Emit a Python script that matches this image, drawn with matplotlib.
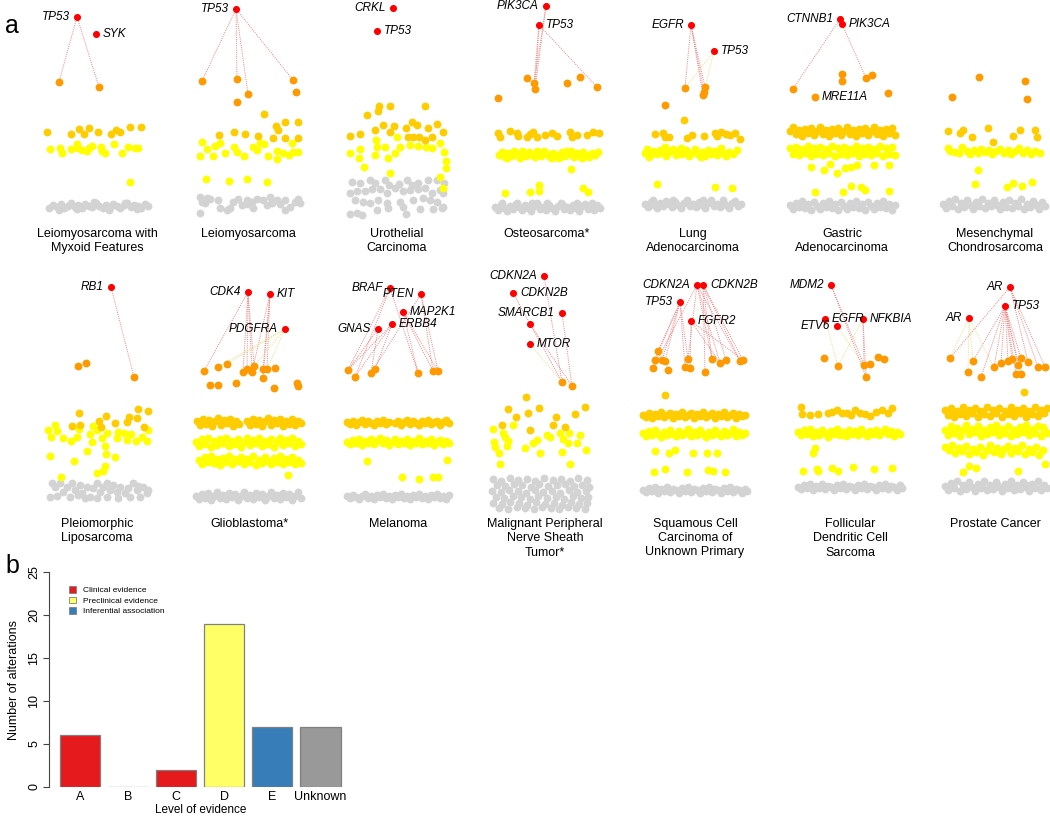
import matplotlib
matplotlib.use("Agg")
import matplotlib.pyplot as plt
from matplotlib.patches import Patch

plt.rcParams["font.family"] = ["Liberation Sans", "DejaVu Sans"]

W, H = 1050, 816

RED = "#FF0000"
ORANGE = "#FF9900"
GOLD = "#FFCC00"
YELLOW = "#FFFF00"
GRAY = "#D3D3D3"
LINK_R = "#F08080"
LINK_Y = "#E8E08A"

# ---- panel a data: x = offset from panel centre, y = height above baseline ----
# genes: (name, x, y, label side)   links: (gene index, orange index, colour)

# Leiomyosarcoma with Myxoid Features
p1_genes = [("TP53", -20, 198, "l"), ("SYK", -1, 181, "r")]
p1_orange = [(-38, 133), (2, 128)]
p1_links = [(0, 0, "r"), (0, 1, "r")]
p1_gold = [(-50, 83), (-26, 81), (-18, 86), (-13, 81), (-8, 87), (1, 83), (14, 81), (19, 85), (23, 83), (33, 88), (44, 88)]
p1_yellow = [(-47, 66), (-37, 67), (-35, 62), (-26, 66), (-20, 71), (-19, 67), (-15, 65), (-10, 64), (-8, 67), (-5, 69),
             (4, 68), (5, 64), (8, 62), (17, 71), (25, 62), (31, 68), (38, 67), (41, 67), (33, 33)]
p1_gray = [(-48, 7), (-44, 10), (-40, 8), (-36, 11), (-33, 7), (-29, 9), (-26, 12), (-22, 8), (-19, 10), (-15, 7),
           (-12, 11), (-8, 9), (-5, 8), (-1, 12), (2, 9), (6, 7), (9, 10), (13, 8), (16, 11), (20, 9), (23, 7),
           (27, 10), (30, 12), (34, 8), (37, 10), (41, 9), (44, 7), (48, 11), (51, 9), (-38, 5), (-20, 6),
           (-3, 13), (12, 5), (28, 12), (40, 6)]

# Leiomyosarcoma
p2_genes = [("TP53", -12, 206, "l")]
p2_orange = [(-46, 134), (-11, 136), (0, 121), (-11, 113), (45, 135), (48, 123)]
p2_links = [(0, 0, "r"), (0, 1, "r"), (0, 2, "r"), (0, 4, "r")]
p2_gold = [(16, 101), (28, 89), (37, 93), (50, 93), (-29, 80), (-14, 83), (-3, 81), (10, 79), (25, 77), (37, 77),
           (50, 77), (30, 85)]
p2_yellow = [(-46, 73), (-41, 66), (-33, 69), (-28, 72), (-35, 59), (-23, 62), (-14, 68), (-11, 63), (-4, 59),
             (5, 68), (9, 65), (12, 72), (16, 71), (20, 59), (29, 64), (29, 56), (35, 62), (41, 60), (45, 63),
             (50, 63), (-48, 59), (44, 72), (-42, 36), (-19, 34), (-1, 36), (19, 33)]
p2_gray = [(-48, 18), (-46, 13), (-43, 12), (-48, 2), (-38, 16), (-30, 15), (-28, 7), (-18, 7), (-15, 13), (-10, 16),
           (-6, 10), (-1, 15), (4, 13), (5, 7), (9, 16), (15, 15), (22, 18), (24, 12), (29, 15), (37, 15), (37, 5),
           (42, 8), (47, 13), (50, 16), (52, 12), (-21, 5), (-41, 17), (0, 11), (19, 10), (32, 11)]

# Urothelial Carcinoma
p3_genes = [("CRKL", -4, 207, "l"), ("TP53", -20, 184, "r")]
p3_orange = []
p3_links = []
p3_gold = [(-18, 109), (-7, 109), (-19, 104), (-30, 100), (28, 109), (-47, 79), (-37, 81), (-14, 90), (-22, 85),
           (-3, 89), (9, 87), (15, 93), (20, 90), (31, 87), (40, 91), (11, 78), (16, 78), (22, 78), (28, 75),
           (35, 78), (46, 83), (-7, 83)]
p3_yellow = [(-37, 66), (-47, 62), (-38, 57), (-33, 48), (-21, 75), (-20, 68), (-22, 60), (-12, 68), (-9, 57),
             (-7, 42), (-2, 62), (0, 78), (3, 68), (13, 70), (21, 69), (29, 68), (35, 67), (43, 72), (47, 63),
             (49, 54), (49, 47), (43, 38), (46, 27)]
p3_gray = [(-45, 33), (-37, 32), (-27, 35), (-22, 32), (-12, 35), (-8, 30), (2, 31), (10, 35), (15, 30), (21, 32),
           (31, 35), (40, 35), (47, 32), (-47, 22), (-40, 24), (-32, 24), (-25, 26), (-17, 26), (-10, 22), (-2, 27),
           (6, 24), (13, 25), (21, 26), (28, 27), (35, 22), (43, 25), (46, 22), (-42, 15), (-34, 13), (-27, 12),
           (-19, 15), (-10, 12), (3, 13), (16, 15), (26, 17), (33, 15), (40, 13), (46, 8), (-47, 1), (-40, 2),
           (-35, 0), (-20, 5), (-9, 7), (6, 8), (9, 1), (23, 6), (36, 6), (45, 7)]

# Osteosarcoma*
p4_genes = [("PIK3CA", -1, 209, "l"), ("TP53", -8, 190, "r")]
p4_orange = [(-20, 137), (-13, 132), (-12, 126), (20, 132), (33, 138), (50, 128), (-49, 117)]
p4_links = [(0, 1, "r"), (0, 2, "r"), (1, 1, "r"), (1, 2, "r"), (1, 5, "r")]
p4_gold = [(-49, 82), (-47, 78), (-37, 84), (-30, 82), (-29, 79), (-20, 78), (-17, 81), (-14, 83), (-10, 78),
           (-2, 80), (5, 82), (10, 79), (23, 83), (25, 78), (30, 80), (40, 80), (46, 83), (52, 82)]
p4_yellow = [(-48, 60), (-45, 63), (-42, 58), (-39, 62), (-36, 59), (-33, 64), (-30, 60), (-27, 57), (-24, 62),
             (-21, 59), (-18, 63), (-15, 60), (-12, 58), (-9, 62), (-6, 59), (-3, 64), (0, 61), (3, 58), (6, 62),
             (9, 60), (12, 57), (15, 63), (18, 59), (21, 61), (24, 64), (27, 58), (30, 62), (33, 59), (36, 63),
             (39, 60), (42, 58), (45, 62), (48, 60), (51, 63), (-40, 57), (-25, 64), (-10, 64), (5, 57), (20, 64),
             (35, 57), (24, 46), (-42, 22), (-17, 23), (-8, 30), (-8, 24), (36, 27), (41, 23)]
p4_gray = [(-52, 8), (-49, 5), (-46, 10), (-43, 7), (-40, 4), (-37, 9), (-34, 6), (-31, 11), (-28, 8), (-25, 5),
           (-22, 10), (-19, 7), (-16, 4), (-13, 9), (-10, 12), (-7, 6), (-4, 8), (-1, 5), (2, 10), (5, 7), (8, 4),
           (11, 9), (14, 12), (17, 6), (20, 8), (23, 5), (26, 10), (29, 7), (32, 4), (35, 9), (38, 11), (41, 6),
           (44, 8), (47, 5), (50, 10), (53, 7), (-45, 12), (-30, 12), (-15, 12), (0, 12), (15, 11), (30, 12), (45, 12)]

# Lung Adenocarcinoma
p5_genes = [("EGFR", -2, 190, "l"), ("TP53", 21, 164, "r")]
p5_orange = [(-8, 127), (12, 128), (11, 123), (10, 120), (-28, 110)]
p5_links = [(0, 0, "r"), (0, 1, "r"), (0, 2, "r"), (0, 3, "r"), (1, 0, "y"), (1, 3, "y")]
p5_gold = [(-9, 95), (-38, 81), (-30, 82), (-28, 78), (-24, 78), (-6, 77), (-1, 80), (11, 79), (22, 82), (24, 79),
           (28, 83), (33, 81), (37, 80), (42, 82), (47, 76)]
p5_yellow = [(-48, 62), (-46, 66), (-43, 60), (-40, 64), (-36, 61), (-33, 65), (-30, 62), (-27, 59), (-24, 63),
             (-20, 66), (-17, 60), (-14, 64), (-11, 61), (-7, 65), (-4, 59), (-1, 62), (2, 66), (6, 60), (9, 63),
             (12, 59), (15, 65), (18, 61), (21, 64), (24, 60), (27, 66), (30, 62), (33, 59), (36, 63), (40, 61),
             (44, 65), (-44, 58), (-28, 68), (-12, 67), (8, 58), (28, 67), (-36, 31), (22, 28), (39, 27)]
p5_gray = [(-48, 11), (-45, 8), (-42, 13), (-39, 10), (-36, 7), (-33, 12), (-30, 9), (-27, 14), (-24, 11), (-21, 8),
           (-18, 13), (-15, 10), (-12, 7), (-9, 12), (-6, 15), (-3, 9), (0, 11), (3, 8), (6, 13), (9, 10), (12, 7),
           (15, 12), (18, 15), (21, 9), (24, 11), (27, 8), (30, 13), (33, 10), (36, 7), (39, 12), (42, 14), (45, 9),
           (48, 11), (-40, 15), (-20, 15), (10, 15), (30, 15)]

# Gastric Adenocarcinoma
p6_genes = [("CTNNB1", -2, 196, "l"), ("PIK3CA", 0, 191, "r")]
p6_orange = [(-49, 126), (-27, 118), (0, 141), (0, 134), (24, 137), (30, 140), (46, 122)]
p6_links = [(0, 0, "r"), (1, 4, "r")]
p6_tags = [("MRE11A", -27, 118)]
p6_gold = [(-52, 84), (-49, 88), (-46, 81), (-43, 85), (-40, 79), (-37, 86), (-34, 82), (-31, 87), (-28, 80),
           (-25, 84), (-22, 88), (-19, 81), (-16, 85), (-13, 79), (-10, 86), (-7, 82), (-4, 87), (-1, 80), (2, 84),
           (5, 88), (8, 81), (11, 85), (14, 79), (17, 86), (20, 82), (23, 87), (26, 80), (29, 84), (32, 88),
           (35, 81), (38, 85), (41, 79), (44, 86), (47, 82), (50, 87), (53, 80)]
p6_yellow = [(-52, 67), (-49, 61), (-46, 68), (-43, 60), (-40, 66), (-37, 62), (-34, 69), (-31, 59), (-28, 67),
             (-25, 61), (-22, 68), (-19, 60), (-16, 66), (-13, 62), (-10, 69), (-7, 59), (-4, 67), (-1, 61), (2, 68),
             (5, 60), (8, 66), (11, 62), (14, 69), (17, 59), (20, 67), (23, 61), (26, 68), (29, 60), (32, 66),
             (35, 62), (38, 69), (41, 59), (44, 67), (47, 61), (50, 68), (53, 60), (-45, 64), (-30, 64), (-15, 64),
             (0, 64), (15, 64), (30, 64), (45, 64), (-31, 48), (-12, 51), (-18, 45), (-5, 42), (3, 47), (9, 48),
             (15, 50), (32, 50), (47, 50), (-27, 23), (1, 23), (9, 29), (19, 28), (23, 25), (47, 24)]
p6_gray = [(-52, 10), (-49, 6), (-46, 12), (-43, 8), (-40, 14), (-37, 7), (-34, 11), (-31, 5), (-28, 13), (-25, 9),
           (-22, 6), (-19, 12), (-16, 8), (-13, 14), (-10, 7), (-7, 11), (-4, 5), (-1, 13), (2, 9), (5, 6), (8, 12),
           (11, 8), (14, 14), (17, 7), (20, 11), (23, 5), (26, 13), (29, 9), (32, 6), (35, 12), (38, 8), (41, 14),
           (44, 7), (47, 11), (50, 5), (53, 10)]

# Mesenchymal Chondrosarcoma
p7_genes = []
p7_orange = [(-43, 118), (-16, 138), (30, 134), (32, 116)]
p7_links = []
p7_gold = [(-47, 84), (-35, 82), (-32, 85), (-23, 78), (-7, 87), (-2, 73), (18, 79), (25, 85), (40, 85), (42, 78)]
p7_yellow = [(-47, 67), (-45, 64), (-40, 63), (-36, 62), (-33, 68), (-28, 64), (-25, 61), (-21, 65), (-17, 62),
             (-14, 66), (-10, 63), (-6, 65), (-3, 61), (1, 64), (5, 66), (9, 62), (13, 65), (16, 61), (20, 64),
             (24, 67), (28, 62), (32, 65), (36, 61), (40, 64), (45, 62), (-17, 45), (-20, 31), (12, 28), (18, 32),
             (27, 29), (37, 33)]
p7_gray = [(-52, 11), (-49, 7), (-46, 14), (-43, 9), (-40, 16), (-37, 6), (-34, 12), (-31, 8), (-28, 15), (-25, 10),
           (-22, 6), (-19, 13), (-16, 9), (-13, 16), (-10, 7), (-7, 12), (-4, 9), (-1, 15), (2, 10), (5, 6), (8, 13),
           (11, 8), (14, 15), (17, 7), (20, 12), (23, 9), (26, 16), (29, 6), (32, 11), (35, 8), (38, 14), (41, 10),
           (44, 6), (47, 13), (50, 9)]

# Pleiomorphic Liposarcoma
p8_genes = [("RB1", 14, 218, "l")]
p8_orange = [(-19, 139), (-11, 142), (37, 128)]
p8_links = [(0, 2, "r")]
p8_gold = [(-18, 92), (2, 84), (9, 89), (32, 88), (40, 87), (41, 96), (51, 94), (18, 82), (-25, 79), (-17, 80),
           (4, 78), (30, 83), (47, 78)]
p8_yellow = [(-49, 75), (-42, 80), (-40, 74), (-46, 68), (-34, 67), (-26, 64), (-20, 68), (-18, 76), (-7, 71),
             (-4, 79), (-5, 63), (0, 75), (5, 67), (10, 72), (20, 67), (21, 73), (27, 72), (30, 65), (34, 71),
             (39, 64), (45, 68), (50, 64), (51, 75), (-10, 54), (8, 59), (-47, 49), (9, 51), (18, 48), (-23, 44),
             (8, 39), (6, 34), (0, 32), (-36, 28)]
p8_gray = [(-45, 22), (-42, 18), (-37, 22), (-34, 13), (-30, 18), (-25, 22), (-22, 15), (-17, 20), (-15, 12),
           (-10, 18), (-7, 8), (-4, 17), (0, 22), (3, 13), (6, 18), (10, 22), (13, 15), (16, 20), (20, 13), (23, 18),
           (28, 12), (31, 17), (36, 22), (40, 15), (43, 8), (46, 18), (50, 12), (-47, 8), (-40, 9), (-27, 8),
           (-19, 10), (-12, 7), (0, 7), (10, 8), (21, 7), (33, 8), (41, 19), (51, 15)]

# Glioblastoma*
p9_genes = [("CDK4", -1, 213, "l"), ("KIT", 21, 211, "r"), ("PDGFRA", 36, 176, "l")]
p9_orange = [(-45, 134), (-31, 138), (-22, 141), (-39, 120), (-31, 120), (-13, 122), (-6, 133), (-2, 136), (3, 133),
             (5, 139), (14, 127), (14, 136), (18, 136), (26, 137), (25, 117), (48, 122), (49, 119)]
p9_links = [(0, 0, "r"), (0, 6, "r"), (0, 7, "r"), (0, 8, "r"), (0, 9, "r"), (1, 8, "r"), (1, 10, "r"),
            (1, 11, "r"), (1, 12, "r"), (2, 1, "y"), (2, 2, "y"), (2, 9, "y"), (2, 12, "y")]
p9_gold = [(-52, 84), (-49, 80), (-46, 86), (-43, 81), (-40, 85), (-37, 79), (-34, 84), (-31, 87), (-28, 80),
           (-25, 85), (-22, 82), (-19, 86), (-16, 79), (-13, 84), (-10, 81), (-2, 84), (1, 80), (4, 86), (7, 81),
           (10, 85), (13, 79), (16, 84), (19, 87), (22, 80), (25, 85), (28, 82), (31, 86), (34, 79), (37, 84),
           (40, 81), (43, 86), (46, 80), (49, 84), (52, 82)]
p9_yellow = [(-53, 63), (-50, 59), (-47, 66), (-44, 61), (-41, 67), (-38, 58), (-35, 64), (-32, 60), (-29, 66),
             (-26, 62), (-23, 67), (-20, 59), (-17, 64), (-14, 61), (-11, 66), (-8, 58), (-5, 63), (-2, 67), (1, 60),
             (4, 65), (7, 62), (10, 67), (13, 59), (16, 64), (19, 61), (22, 66), (25, 58), (28, 63), (31, 67),
             (34, 60), (37, 65), (40, 62), (43, 67), (46, 59), (49, 64), (52, 61),
             (-50, 45), (-47, 41), (-44, 48), (-41, 43), (-38, 49), (-35, 42), (-32, 46), (-29, 40), (-26, 47),
             (-23, 43), (-20, 49), (-17, 41), (-14, 46), (-11, 44), (-8, 48), (-5, 41), (-2, 46), (1, 43), (4, 49),
             (7, 40), (10, 45), (13, 42), (16, 48), (19, 44), (22, 41), (25, 47), (28, 43), (31, 49), (34, 41),
             (37, 46), (40, 43), (43, 48), (46, 41), (49, 45), (52, 42), (39, 30)]
p9_gray = [(-53, 9), (-50, 6), (-47, 11), (-44, 7), (-41, 12), (-38, 5), (-35, 9), (-32, 13), (-29, 7), (-26, 10),
           (-23, 6), (-20, 12), (-17, 8), (-14, 11), (-11, 5), (-8, 9), (-5, 13), (-2, 7), (1, 10), (4, 6), (7, 12),
           (10, 8), (13, 11), (16, 5), (19, 9), (22, 13), (25, 7), (28, 10), (31, 6), (34, 12), (37, 8), (40, 11),
           (43, 5), (46, 9), (49, 13), (52, 7)]

# Melanoma
p10_genes = [("BRAF", -8, 217, "l"), ("PTEN", 23, 211, "l"), ("MAP2K1", 5, 193, "r"), ("ERBB4", -6, 181, "r"),
             ("GNAS", -20, 176, "l")]
p10_orange = [(-50, 135), (-43, 128), (-27, 132), (-23, 136), (20, 132), (35, 134), (40, 134)]
p10_links = [(0, 0, "r"), (0, 1, "r"), (0, 4, "r"), (1, 2, "r"), (1, 5, "r"), (1, 6, "r"), (2, 4, "r"),
             (2, 5, "r"), (2, 6, "r"), (3, 0, "r"), (3, 1, "r"), (3, 3, "r"), (4, 0, "r"), (4, 2, "r")]
p10_gold = [(-51, 83), (-48, 81), (-45, 84), (-42, 80), (-39, 83), (-36, 85), (-33, 81), (-30, 84), (-27, 82),
            (-24, 80), (-21, 84), (-18, 82), (-15, 85), (-12, 81), (-9, 83), (-3, 82), (0, 84), (3, 80), (6, 83),
            (9, 85), (12, 81), (15, 84), (18, 82), (21, 80), (24, 84), (27, 82), (30, 85), (33, 81), (36, 83),
            (39, 84), (42, 80), (45, 83), (48, 85), (51, 82)]
p10_yellow = [(-51, 63), (-48, 61), (-45, 65), (-42, 62), (-39, 66), (-36, 60), (-33, 64), (-30, 62), (-27, 66),
              (-24, 61), (-21, 64), (-18, 67), (-15, 62), (-12, 65), (-9, 60), (-6, 63), (-3, 66), (0, 61), (3, 64),
              (6, 62), (9, 66), (12, 60), (15, 64), (18, 62), (21, 67), (24, 61), (27, 64), (30, 62), (33, 66),
              (36, 60), (39, 63), (42, 65), (45, 61), (48, 64), (51, 62), (-31, 44), (49, 45), (4, 28), (21, 26),
              (35, 28), (40, 28)]
p10_gray = [(-51, 9), (-48, 7), (-45, 10), (-42, 8), (-39, 6), (-36, 9), (-33, 11), (-30, 7), (-27, 9), (-24, 6),
            (-21, 10), (-18, 8), (-15, 11), (-12, 7), (-9, 9), (-6, 6), (-3, 10), (0, 8), (3, 11), (6, 7), (9, 9),
            (12, 6), (15, 10), (18, 8), (21, 11), (24, 7), (27, 9), (30, 6), (33, 10), (36, 8), (39, 11), (42, 7),
            (45, 9), (48, 6), (51, 10)]

# Malignant Peripheral Nerve Sheath Tumor*
p11_genes = [("CDKN2A", -1, 229, "l"), ("CDKN2B", -32, 212, "r"), ("SMARCB1", 17, 192, "l"), ("", -15, 181, "l"),
             ("MTOR", -15, 161, "r")]
p11_orange = [(17, 123), (27, 119)]
p11_links = [(0, 0, "r"), (1, 0, "r"), (2, 1, "r"), (3, 1, "r"), (4, 0, "y")]
p11_gold = [(-19, 108), (-37, 96), (-17, 92), (-6, 97), (-29, 88), (8, 80), (11, 88), (30, 91), (40, 98), (-15, 75),
            (20, 78), (-43, 80)]
p11_yellow = [(-52, 76), (-42, 72), (-40, 68), (-37, 64), (-51, 63), (-50, 58), (-38, 59), (-46, 52), (-32, 80),
              (-20, 57), (-12, 62), (-8, 65), (-5, 52), (2, 70), (5, 68), (15, 72), (18, 66), (24, 72), (23, 62),
              (32, 62), (35, 70), (17, 53), (41, 55), (-45, 41), (25, 41)]
p11_gray = [(-52, 26), (-44, 24), (-35, 27), (-27, 25), (-18, 26), (-10, 24), (-1, 27), (8, 25), (16, 26), (25, 24),
            (33, 27), (42, 25), (-48, 20), (-40, 19), (-31, 21), (-23, 20), (-14, 18), (-6, 21), (3, 19), (12, 20),
            (20, 21), (29, 19), (37, 20), (44, 18), (-53, 14), (-44, 13), (-36, 15), (-27, 14), (-19, 12),
            (-10, 15), (-2, 13), (7, 14), (15, 12), (24, 15), (32, 13), (41, 14), (-49, 8), (-41, 7), (-32, 9),
            (-24, 8), (-15, 6), (-7, 9), (2, 7), (11, 8), (19, 6), (28, 9), (36, 7), (43, 8), (-52, 2), (-43, 1),
            (-35, 3), (-26, 2), (-18, 0), (-9, 3), (0, 1), (9, 2), (17, 0), (26, 3), (34, 1), (42, 2), (-46, -3),
            (-37, -4), (-28, -2), (-20, -3), (-11, -4), (-3, -2), (6, -3), (14, -4), (23, -2), (31, -3), (40, -4)]

# Squamous Cell Carcinoma of Unknown Primary
p12_genes = [("CDKN2A", 2, 220, "l"), ("CDKN2B", 8, 220, "r"), ("TP53", -15, 203, "l"), ("FGFR2", -4, 184, "r")]
p12_orange = [(-37, 154), (-40, 145), (-33, 145), (-30, 144), (-42, 137), (-27, 135), (-10, 138), (-7, 146),
              (-5, 137), (17, 146), (25, 142), (31, 145), (45, 144), (48, 145), (10, 133)]
p12_links = [(2, 0, "r"), (2, 1, "r"), (2, 2, "r"), (2, 3, "r"), (2, 6, "r"), (2, 7, "r"), (0, 7, "r"),
             (0, 9, "r"), (0, 10, "r"), (0, 12, "r"), (1, 9, "r"), (1, 11, "r"), (1, 12, "r"), (1, 13, "r"),
             (3, 8, "r"), (3, 10, "r"), (3, 13, "r"), (0, 4, "r"), (1, 14, "r")]
p12_gold = [(-52, 90), (-49, 88), (-46, 92), (-43, 87), (-40, 91), (-37, 89), (-34, 93), (-31, 88), (-28, 90),
            (-25, 92), (-22, 87), (-19, 91), (-16, 89), (-13, 93), (-10, 88), (-7, 90), (-4, 92), (-1, 87), (2, 91),
            (5, 89), (8, 93), (11, 88), (14, 90), (17, 92), (20, 87), (23, 91), (26, 89), (29, 93), (32, 88),
            (35, 90), (38, 92), (41, 87), (44, 91), (47, 89), (50, 90), (-30, 110)]
p12_yellow = [(-52, 72), (-49, 69), (-46, 74), (-43, 70), (-40, 75), (-37, 71), (-34, 68), (-31, 73), (-28, 70),
              (-25, 75), (-22, 71), (-19, 69), (-16, 74), (-13, 70), (-10, 72), (-7, 76), (-4, 69), (-1, 73),
              (2, 70), (5, 75), (8, 71), (11, 68), (14, 73), (17, 70), (20, 75), (23, 71), (26, 69), (29, 74),
              (32, 70), (35, 72), (38, 76), (41, 69), (44, 73), (47, 70), (50, 72), (-40, 54), (-26, 52), (-20, 55),
              (-2, 52), (12, 52), (22, 52), (-41, 33), (-30, 36), (-8, 33), (13, 35), (18, 34), (30, 33)]
p12_gray = [(-52, 15), (-49, 13), (-46, 17), (-43, 14), (-40, 18), (-37, 12), (-34, 16), (-31, 14), (-28, 18),
            (-25, 13), (-22, 16), (-19, 15), (-16, 12), (-13, 17), (-10, 14), (-7, 18), (-4, 13), (-1, 16), (2, 15),
            (5, 12), (8, 17), (11, 14), (14, 18), (17, 13), (20, 16), (23, 15), (26, 12), (29, 17), (32, 14),
            (35, 18), (38, 13), (41, 16), (44, 15), (47, 12), (50, 16), (52, 14)]

# Follicular Dendritic Cell Sarcoma
p13_genes = [("MDM2", -19, 220, "l"), ("EGFR", -25, 186, "r"), ("ETV6", -13, 179, "l"), ("NFKBIA", 13, 186, "r")]
p13_orange = [(-26, 147), (-12, 139), (14, 140), (20, 141), (28, 148), (34, 146), (16, 128)]
p13_links = [(0, 2, "r"), (0, 6, "r"), (1, 1, "y"), (2, 2, "y"), (3, 2, "r"), (3, 1, "y"), (3, 6, "r")]
p13_gold = [(-49, 98), (-48, 91), (-40, 90), (-32, 91), (-22, 92), (-18, 93), (-13, 95), (-8, 92), (-3, 92),
            (1, 90), (5, 95), (10, 92), (15, 91), (20, 89), (26, 93), (32, 95), (38, 92), (42, 97)]
p13_yellow = [(-52, 73), (-49, 70), (-46, 75), (-43, 71), (-40, 76), (-37, 69), (-34, 73), (-31, 70), (-28, 75),
              (-25, 72), (-22, 68), (-19, 74), (-16, 71), (-13, 76), (-10, 70), (-7, 73), (-4, 69), (-1, 75),
              (2, 71), (5, 74), (8, 70), (11, 76), (14, 72), (17, 69), (20, 74), (23, 71), (26, 75), (29, 70),
              (32, 73), (35, 76), (38, 71), (41, 74), (44, 69), (47, 73), (50, 71), (-35, 57), (-37, 52), (-47, 34),
              (-33, 36), (-32, 34), (-18, 37), (-12, 34), (3, 38), (24, 36), (42, 37)]
p13_gray = [(-52, 18), (-49, 16), (-46, 20), (-43, 17), (-40, 21), (-37, 15), (-34, 19), (-31, 17), (-28, 21),
            (-25, 16), (-22, 19), (-19, 18), (-16, 15), (-13, 20), (-10, 17), (-7, 21), (-4, 16), (-1, 19), (2, 18),
            (5, 15), (8, 20), (11, 17), (14, 21), (17, 16), (20, 19), (23, 18), (26, 15), (29, 20), (32, 17),
            (35, 21), (38, 16), (41, 19), (44, 18), (47, 15), (50, 20), (52, 17)]

# Prostate Cancer
p14_genes = [("AR", 15, 218, "l"), ("TP53", 10, 199, "r"), ("AR", -26, 187, "l")]
p14_orange = [(-45, 147), (-22, 144), (-27, 133), (-14, 128), (-1, 138), (6, 142), (13, 144), (17, 146), (26, 147),
              (33, 143), (23, 140), (21, 131), (26, 131), (43, 138), (50, 138)]
p14_links = [(0, 0, "r"), (0, 9, "r"), (0, 13, "r"), (0, 14, "r"), (1, 1, "r"), (1, 3, "r"), (1, 4, "r"),
             (1, 5, "r"), (1, 6, "r"), (1, 7, "r"), (1, 8, "r"), (1, 10, "r"), (1, 11, "r"), (1, 12, "r"),
             (2, 0, "y"), (2, 1, "y"), (2, 2, "y"), (2, 4, "y")]
p14_gold = [(-50, 95), (-47, 90), (-44, 97), (-41, 88), (-38, 94), (-35, 91), (-32, 98), (-29, 89), (-26, 95),
            (-23, 92), (-20, 97), (-17, 88), (-14, 94), (-11, 91), (-8, 98), (-5, 89), (-2, 95), (1, 92), (4, 97),
            (7, 88), (10, 94), (13, 91), (16, 98), (19, 89), (22, 95), (25, 92), (28, 97), (31, 88), (34, 94),
            (37, 91), (40, 98), (43, 89), (46, 95), (49, 92), (52, 97), (-45, 93), (-30, 93), (-15, 93), (0, 93),
            (15, 93), (30, 93), (45, 93), (29, 113)]
p14_yellow = [(-50, 75), (-47, 70), (-44, 79), (-41, 72), (-38, 77), (-35, 69), (-32, 75), (-29, 80), (-26, 71),
              (-23, 76), (-20, 73), (-17, 79), (-14, 69), (-11, 75), (-8, 71), (-5, 78), (-2, 73), (1, 80), (4, 70),
              (7, 76), (10, 72), (13, 79), (16, 69), (19, 75), (22, 71), (25, 78), (28, 73), (31, 80), (34, 70),
              (37, 76), (40, 72), (43, 79), (46, 69), (49, 75), (52, 72), (-42, 75), (-27, 75), (-12, 75), (3, 75),
              (18, 75), (33, 75), (48, 78),
              (-50, 58), (-46, 55), (-43, 60), (-40, 52), (-36, 57), (-33, 54), (-29, 59), (-26, 51), (-22, 56),
              (-19, 53), (-15, 58), (-12, 50), (-8, 55), (-5, 60), (-1, 53), (2, 57), (6, 51), (9, 56), (13, 59),
              (16, 52), (20, 57), (23, 54), (27, 60), (30, 51), (34, 56), (37, 53), (41, 58), (44, 50), (48, 55),
              (-26, 39), (-19, 37), (-32, 33), (23, 34), (50, 41)]
p14_gray = [(-50, 19), (-47, 15), (-44, 22), (-41, 17), (-38, 24), (-35, 14), (-32, 20), (-29, 16), (-26, 23),
            (-23, 18), (-20, 14), (-17, 21), (-14, 17), (-11, 24), (-8, 15), (-5, 20), (-2, 16), (1, 23), (4, 18),
            (7, 14), (10, 21), (13, 17), (16, 24), (19, 15), (22, 20), (25, 16), (28, 23), (31, 18), (34, 14),
            (37, 21), (40, 17), (43, 24), (46, 15), (49, 20), (52, 17), (-43, 19), (-28, 19), (-13, 20), (2, 20),
            (17, 19), (32, 20), (47, 19)]

# ---- panel b data ----
levels = ["A", "B", "C", "D", "E", "Unknown"]
counts = [6, 0, 2, 19, 7, 7]
bar_colors = ["#E41A1C", "#E41A1C", "#E41A1C", "#FFFF66", "#377EB8", "#999999"]
legend_labels = ["Clinical evidence", "Preclinical evidence", "Inferential association"]
legend_colors = ["#E41A1C", "#FFFF66", "#377EB8"]

TOP, BOT = 215, 505
panels = [
    ("Leiomyosarcoma with\nMyxoid Features", 97, TOP, p1_genes, p1_orange, p1_links, p1_gold, p1_yellow, p1_gray, []),
    ("Leiomyosarcoma", 248, TOP, p2_genes, p2_orange, p2_links, p2_gold, p2_yellow, p2_gray, []),
    ("Urothelial\nCarcinoma", 397, TOP, p3_genes, p3_orange, p3_links, p3_gold, p3_yellow, p3_gray, []),
    ("Osteosarcoma*", 547, TOP, p4_genes, p4_orange, p4_links, p4_gold, p4_yellow, p4_gray, []),
    ("Lung\nAdenocarcinoma", 693, TOP, p5_genes, p5_orange, p5_links, p5_gold, p5_yellow, p5_gray, []),
    ("Gastric\nAdenocarcinoma", 842, TOP, p6_genes, p6_orange, p6_links, p6_gold, p6_yellow, p6_gray, p6_tags),
    ("Mesenchymal\nChondrosarcoma", 995, TOP, p7_genes, p7_orange, p7_links, p7_gold, p7_yellow, p7_gray, []),
    ("Pleiomorphic\nLiposarcoma", 97, BOT, p8_genes, p8_orange, p8_links, p8_gold, p8_yellow, p8_gray, []),
    ("Glioblastoma*", 249, BOT, p9_genes, p9_orange, p9_links, p9_gold, p9_yellow, p9_gray, []),
    ("Melanoma", 398, BOT, p10_genes, p10_orange, p10_links, p10_gold, p10_yellow, p10_gray, []),
    ("Malignant Peripheral\nNerve Sheath\nTumor*", 545, BOT, p11_genes, p11_orange, p11_links, p11_gold,
     p11_yellow, p11_gray, []),
    ("Squamous Cell\nCarcinoma of\nUnknown Primary", 695, BOT, p12_genes, p12_orange, p12_links, p12_gold,
     p12_yellow, p12_gray, []),
    ("Follicular\nDendritic Cell\nSarcoma", 850, BOT, p13_genes, p13_orange, p13_links, p13_gold, p13_yellow,
     p13_gray, []),
    ("Prostate Cancer", 995, BOT, p14_genes, p14_orange, p14_links, p14_gold, p14_yellow, p14_gray, []),
]

fig = plt.figure(figsize=(W / 100, H / 100), dpi=100)

DOT = 32


def scatter(ax, pts, color, s=DOT):
    if pts:
        xs, ys = zip(*pts)
        ax.scatter(xs, ys, s=s, color=color, linewidths=0, zorder=3, clip_on=False)


for title, cx, base, genes, orange, links, gold, yellow, gray, tags in panels:
    ax = fig.add_axes([(cx - 65) / W, 1 - (base + 12) / H, 130 / W, 247 / H])
    ax.set_xlim(-65, 65)
    ax.set_ylim(-12, 235)
    ax.axis("off")

    for gi, oi, c in links:
        ax.plot([genes[gi][1], orange[oi][0]], [genes[gi][2], orange[oi][1]],
                ls=(0, (1, 1.2)), lw=0.7, color=LINK_R if c == "r" else LINK_Y,
                zorder=1, clip_on=False)

    scatter(ax, gray, GRAY)
    scatter(ax, yellow, YELLOW)
    scatter(ax, gold, GOLD)
    scatter(ax, orange, ORANGE)
    scatter(ax, [(g[1], g[2]) for g in genes], RED, s=26)

    for name, gx, gy, side in genes:
        if side == "l":
            ax.text(gx - 7, gy, name, ha="right", va="center", fontsize=8.5, style="italic")
        else:
            ax.text(gx + 7, gy, name, ha="left", va="center", fontsize=8.5, style="italic")
    for name, tx, ty in tags:
        ax.text(tx + 7, ty, name, ha="left", va="center", fontsize=8.5, style="italic")

    ax.text(0, -13, title, ha="center", va="top", fontsize=9, linespacing=1.25)

fig.text(5 / W, 1 - 33 / H, "a", fontsize=18, va="baseline")
fig.text(5 / W, 1 - 573 / H, "b", fontsize=18, va="baseline")

# ---- panel b ----
axb = fig.add_axes([48.8 / W, 1 - 787 / H, 303 / W, 215 / H])
pos = [0.7 + 1.2 * i for i in range(len(levels))]
axb.bar(pos, counts, width=1.0, color=bar_colors, edgecolor="#808080", linewidth=0.9)
axb.set_xlim(-0.08, 7.48)
axb.set_ylim(0, 25)
for side in ["top", "right", "bottom"]:
    axb.spines[side].set_visible(False)
axb.spines["left"].set_bounds(0, 25)
axb.spines["left"].set_linewidth(0.8)
axb.spines["left"].set_color("#444444")
axb.set_yticks([0, 5, 10, 15, 20, 25])
axb.set_yticklabels(["0", "5", "10", "15", "20", "25"], rotation=90, va="center")
axb.tick_params(axis="y", length=4, width=0.8, pad=2, labelsize=9, color="#444444")
axb.set_xticks(pos)
axb.set_xticklabels(levels)
axb.tick_params(axis="x", length=0, pad=3, labelsize=9)
axb.set_xlabel("Level of evidence", fontsize=8.5, va="center")
axb.xaxis.set_label_coords(0.5, (787 - 810) / 215)
axb.set_ylabel("Number of alterations", fontsize=9, labelpad=6)

handles = [Patch(facecolor=c, edgecolor="#808080", linewidth=0.6) for c in legend_colors]
axb.legend(handles, legend_labels, loc="upper left", bbox_to_anchor=(0.055, 0.95), frameon=False,
           fontsize=6, handlelength=0.9, handleheight=0.9, labelspacing=0.25, handletextpad=0.8,
           borderaxespad=0)

fig.savefig("out.png", dpi=100)
